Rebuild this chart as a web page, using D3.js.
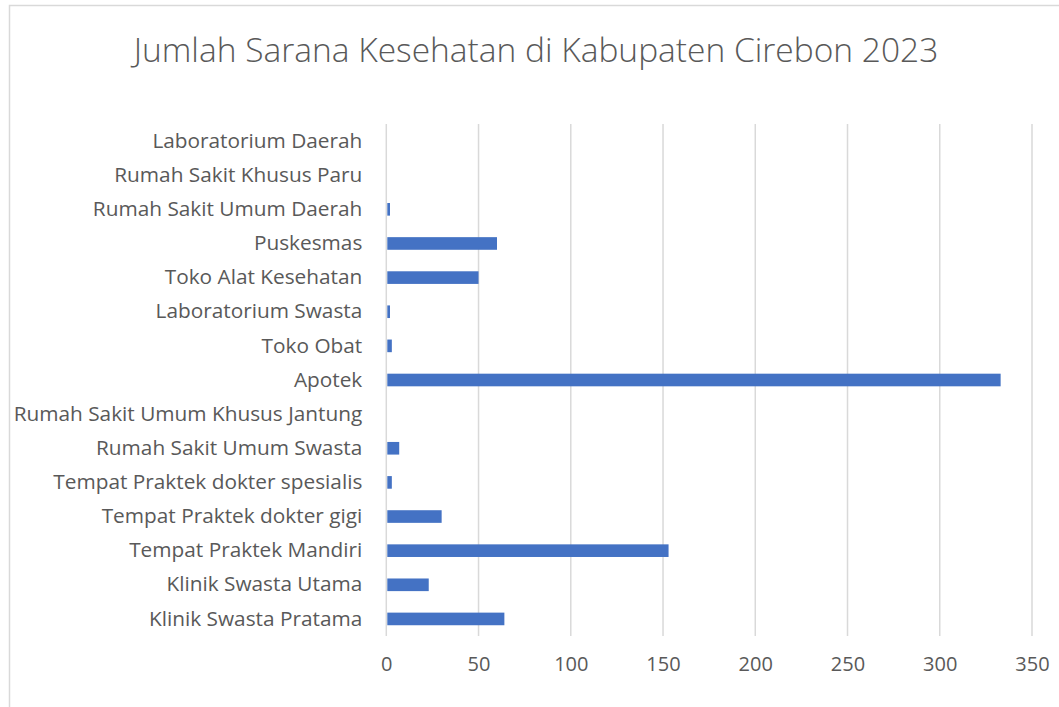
<!DOCTYPE html>
<html>
<head>
<meta charset="utf-8">
<script src="https://cdn.jsdelivr.net/npm/d3@7"></script>
<style>
  body { margin: 0; background: #fff; }
  text { font-family: "Open Sans", sans-serif; fill: #595959; }
</style>
</head>
<body>
<div class="box"></div>
<script>
// data, listed top to bottom as in the chart
const categories = [
  'Laboratorium Daerah',
  'Rumah Sakit Khusus Paru',
  'Rumah Sakit Umum Daerah',
  'Puskesmas',
  'Toko Alat Kesehatan',
  'Laboratorium Swasta',
  'Toko Obat',
  'Apotek',
  'Rumah Sakit Umum Khusus Jantung',
  'Rumah Sakit Umum Swasta',
  'Tempat Praktek dokter spesialis',
  'Tempat Praktek dokter gigi',
  'Tempat Praktek Mandiri',
  'Klinik Swasta Utama',
  'Klinik Swasta Pratama'
];
const values = [0, 0, 2, 60, 50, 2, 3, 333, 0, 7, 3, 30, 153, 23, 64];
const xTicks = [0, 50, 100, 150, 200, 250, 300, 350];
const title = 'Jumlah Sarana Kesehatan di Kabupaten Cirebon 2023';

const svg = d3.select('.box')
              .append('svg')
              .attr('width', 1059)
              .attr('height', 707);

// chart frame
svg.append('rect')
   .attr('x', 9.5)
   .attr('y', 5.5)
   .attr('width', 1200)
   .attr('height', 900)
   .attr('fill', 'none')
   .attr('stroke', '#d9d9d9')
   .attr('stroke-width', 1.5);

svg.append('text')
   .attr('x', 536)
   .attr('y', 62)
   .attr('text-anchor', 'middle')
   .style('font-size', '33.5px')
   .style('font-weight', 300)
   .text(title);

const plotLeft = 386.3, plotRight = 1032, plotTop = 124, plotBottom = 636;

const x = d3.scaleLinear()
            .domain([0, 350])
            .range([plotLeft, plotRight]);

const y = d3.scaleBand()
            .domain(categories)
            .range([plotTop, plotBottom])
            .paddingInner(0.63)
            .paddingOuter(0.315);

const graph = svg.append('g');

// gridlines
graph.selectAll('line.grid')
     .data(xTicks)
     .enter()
     .append('line')
     .attr('class', 'grid')
     .attr('x1', d => x(d))
     .attr('x2', d => x(d))
     .attr('y1', plotTop)
     .attr('y2', plotBottom)
     .attr('stroke', '#d9d9d9')
     .attr('stroke-width', 1.5);

// bars
graph.selectAll('rect.bar')
     .data(values)
     .enter()
     .append('rect')
     .attr('class', 'bar')
     .attr('x', x(0) + 1)
     .attr('y', (d, i) => y(categories[i]))
     .attr('width', d => Math.max(0, x(d) - x(0) - 1))
     .attr('height', y.bandwidth())
     .attr('fill', '#4472c4');

// category labels
const axeY = d3.axisLeft(y).tickSize(0).tickPadding(24);
const groupeY = graph.append('g')
                     .attr('transform', `translate(${plotLeft}, 0)`)
                     .call(axeY);
groupeY.select('.domain').remove();
groupeY.selectAll('text')
       .style('font-size', '20.8px')
       .attr('fill', '#595959');

// value axis labels
const axeX = d3.axisBottom(x).tickValues(xTicks).tickSize(0).tickPadding(21);
const groupeX = graph.append('g')
                     .attr('transform', `translate(0, ${plotBottom})`)
                     .call(axeX);
groupeX.select('.domain').remove();
groupeX.selectAll('text')
       .style('font-size', '20px')
       .attr('fill', '#595959');
</script>
</body>
</html>
